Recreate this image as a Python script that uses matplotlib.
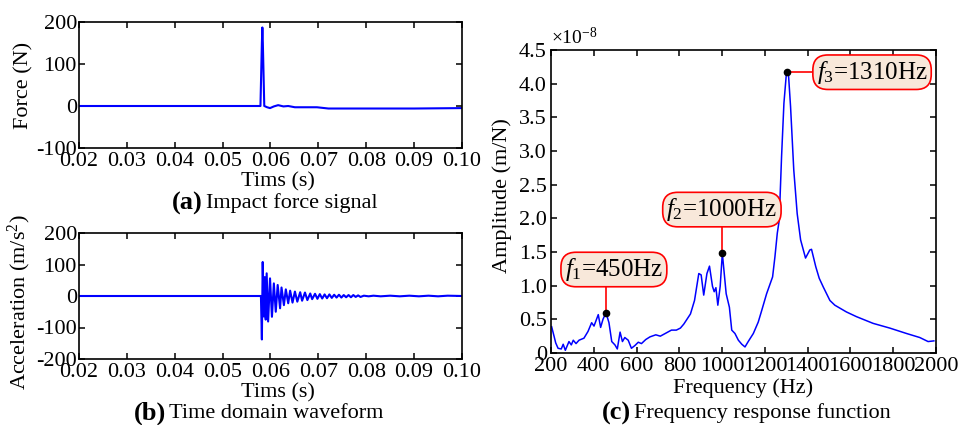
import numpy as np
import matplotlib
matplotlib.use("Agg")
import matplotlib.pyplot as plt

plt.rcParams['font.family'] = ['Liberation Serif', 'DejaVu Serif']
plt.rcParams['mathtext.fontset'] = 'custom'
plt.rcParams['mathtext.rm'] = 'Liberation Serif'
plt.rcParams['mathtext.it'] = 'Liberation Serif:italic'
plt.rcParams['mathtext.bf'] = 'Liberation Serif:bold'
plt.rcParams['axes.unicode_minus'] = False

# (a) impact force signal
force_t = [0.0200, 0.0579, 0.0582, 0.0583, 0.0584, 0.0587, 0.0593, 0.0599, 0.0607,
           0.0616, 0.0627, 0.0637, 0.0651, 0.0697, 0.0721, 0.0900, 0.1000]
force_v = [0, 0, 150, 187, 150, 0, -3, -5, -1,
           2, -1, 0, -3, -3, -6, -6, -5]

# (b) acceleration, extrema of the decaying ring-down
acc_t = [0.0200, 0.0580, 0.0582, 0.05837, 0.0586, 0.0588, 0.0590, 0.0592, 0.0595, 0.0599,
         0.0603, 0.0607, 0.0611, 0.0615, 0.0620, 0.0623, 0.0628, 0.0632, 0.0637, 0.0641,
         0.0646, 0.0651, 0.0656, 0.0662, 0.0666, 0.0672, 0.0677, 0.0683, 0.0687, 0.0693,
         0.0698, 0.0703, 0.0708, 0.0713, 0.0718, 0.0723, 0.0728, 0.0733, 0.0738, 0.0743,
         0.0748, 0.0753, 0.0758, 0.0763, 0.0768, 0.0773, 0.0778, 0.0783, 0.0788, 0.0795,
         0.0805, 0.0815, 0.0830, 0.0850, 0.0870, 0.0890, 0.0910, 0.0930, 0.0950, 0.0970,
         0.1000]
acc_v = [0, 0, -138, 108, -65, 60, -75, 72, -81, 56,
         -66, 40, -50, 35, -39, 27, -29, 21, -23, 17,
         -21, 14, -18, 12, -15, 11, -13, 8, -10, 7,
         -9, 6, -8, 5, -7, 5, -6, 4, -5, 4,
         -5, 3, -4, 3, -4, 3, -3, 2, -3, 1,
         -1, 1, -1, 1, -1, 1, -1, 1, -1, 1,
         0]

# (c) frequency response function, amplitude in 1e-8 m/N
freq = [203, 215, 222, 233, 248, 257, 267, 284, 295, 304,
        317, 331, 354, 373, 390, 401, 421, 432, 443, 457,
        471, 484, 499, 510, 523, 534, 545, 561, 576, 592,
        608, 623, 643, 663, 690, 711, 740, 763, 786, 805,
        821, 852, 871, 891, 902, 914, 929, 941, 955, 963,
        971, 980, 991, 1001, 1019, 1034, 1045, 1060, 1076, 1092,
        1107, 1122, 1146, 1169, 1185, 1208, 1236, 1247, 1258, 1267,
        1278, 1289, 1301, 1310, 1320, 1335, 1351, 1367, 1390, 1410,
        1418, 1438, 1454, 1473, 1504, 1527, 1581, 1628, 1706, 1784,
        1862, 1924, 1963, 1990]
amp = [0.39, 0.24, 0.15, 0.07, 0.06, 0.13, 0.04, 0.17, 0.12, 0.19,
       0.14, 0.19, 0.22, 0.32, 0.45, 0.40, 0.57, 0.38, 0.50, 0.60,
       0.45, 0.17, 0.12, 0.06, 0.31, 0.17, 0.23, 0.19, 0.07, 0.11,
       0.16, 0.14, 0.20, 0.24, 0.27, 0.25, 0.30, 0.34, 0.34, 0.37,
       0.43, 0.58, 0.78, 1.18, 1.16, 0.86, 1.18, 1.29, 0.99, 0.91,
       0.97, 0.71, 0.99, 1.48, 0.88, 0.68, 0.34, 0.29, 0.19, 0.13,
       0.09, 0.17, 0.29, 0.46, 0.63, 0.88, 1.13, 1.43, 1.78, 1.97,
       2.92, 3.71, 4.17, 4.15, 3.66, 2.72, 2.07, 1.68, 1.41, 1.53,
       1.54, 1.28, 1.11, 0.98, 0.78, 0.71, 0.61, 0.54, 0.44, 0.37,
       0.29, 0.23, 0.17, 0.18]

peak_f = [457, 1001, 1305]
peak_a = [0.60, 1.48, 4.18]
peak_labels = [r'$f_{\mathrm{1}}$=450Hz', r'$f_{\mathrm{2}}$=1000Hz', r'$f_{\mathrm{3}}$=1310Hz']

W, H = 964, 425
fig = plt.figure(figsize=(W / 100, H / 100), dpi=100)

def px_axes(x0, y0, x1, y1):
    return fig.add_axes([x0 / W, 1 - y1 / H, (x1 - x0) / W, (y1 - y0) / H])

def style(ax, ypad):
    for s in ax.spines.values():
        s.set_linewidth(1.2)
    ax.tick_params(direction='in', top=True, right=True, length=4, width=1.1,
                   labelsize=16)
    ax.tick_params(axis='y', pad=ypad)
    ax.tick_params(axis='x', pad=3)

ax1 = px_axes(79, 22, 462, 148)
ax2 = px_axes(79, 233, 462, 359)
ax3 = px_axes(551, 50, 936, 353)

blue = '#0000ff'
fs = 16

ax1.plot(force_t, force_v, color=blue, lw=1.5)
ax1.set_xlim(0.02, 0.10)
ax1.set_ylim(-100, 200)
ax1.set_xticks(np.arange(0.02, 0.1001, 0.01))
ax1.set_xticklabels(['%.2f' % v for v in np.arange(0.02, 0.1001, 0.01)])
ax1.set_yticks([-100, 0, 100, 200])
style(ax1, 1.5)
ax1.set_xlabel('Tims (s)', fontsize=fs)
ax1.xaxis.set_label_coords(0.52, -0.195)
ax1.set_ylabel('Force (N)', fontsize=fs)
ax1.yaxis.set_label_coords(-0.12, 0.5)

ax2.plot(acc_t, acc_v, color=blue, lw=1.5)
ax2.set_xlim(0.02, 0.10)
ax2.set_ylim(-200, 200)
ax2.set_xticks(np.arange(0.02, 0.1001, 0.01))
ax2.set_xticklabels(['%.2f' % v for v in np.arange(0.02, 0.1001, 0.01)])
ax2.set_yticks([-200, -100, 0, 100, 200])
style(ax2, 1.5)
ax2.set_xlabel('Tims (s)', fontsize=fs)
ax2.xaxis.set_label_coords(0.52, -0.195)
ax2.set_ylabel(r'Acceleration (m/s$^{\mathrm{2}}$)', fontsize=fs)
ax2.yaxis.set_label_coords(-0.12, 0.45)

ax3.plot(freq, amp, color=blue, lw=1.1)
ax3.set_xlim(200, 2000)
ax3.set_ylim(0, 4.5)
ax3.set_xticks(range(200, 2001, 200))
yt = np.arange(0, 4.51, 0.5)
ax3.set_yticks(yt)
ax3.set_yticklabels(['0'] + ['%.1f' % v for v in yt[1:]])
style(ax3, 3)
ax3.set_xlabel('Frequency (Hz)', fontsize=fs)
ax3.xaxis.set_label_coords(0.5, -0.085)
ax3.set_ylabel('Amplitude (m/N)', fontsize=fs)
ax3.yaxis.set_label_coords(-0.10, 0.52)
ax3.text(0.0, 1.005, r'$\times\mathrm{10}^{\mathrm{-8}}$', transform=ax3.transAxes,
         fontsize=14, ha='left', va='bottom')

# peak call-outs
box = dict(boxstyle='round,pad=0.15,rounding_size=0.6', fc='#f8e8da', ec='red', lw=1.2)
label_pos = [(494, 1.24), (999, 2.13), (1701, 4.17)]
for f, a, lab, (tx, ty) in zip(peak_f, peak_a, peak_labels, label_pos):
    if ty > a + 0.3:
        ax3.plot([f, f], [a, ty], color='red', lw=1.2, zorder=3)
    else:
        ax3.plot([f, tx], [a, a], color='red', lw=1.2, zorder=3)
    ax3.text(tx, ty, lab, fontsize=18, ha='center', va='center', bbox=box, zorder=5)
ax3.plot(peak_f, peak_a, 'o', color='black', ms=4.5, zorder=6)

# captions
def caption(xb, y, tag, txt):
    fig.text(xb / W, 1 - y / H, tag, fontsize=19, fontweight='bold', ha='right', va='center')
    fig.text((xb + 3) / W, 1 - y / H, txt, fontsize=fs, ha='left', va='center')

caption(203, 203, '(a)', 'Impact force signal')
caption(166, 413, '(b)', 'Time domain waveform')
caption(631, 413, '(c)', 'Frequency response function')

fig.savefig('out.png', dpi=100)
